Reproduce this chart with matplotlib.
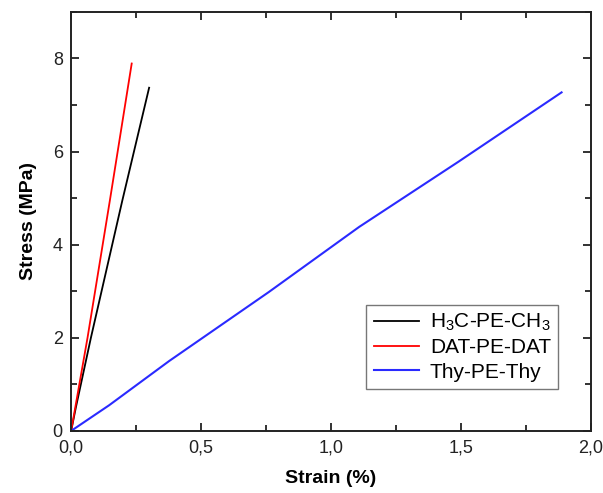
import matplotlib
matplotlib.use('Agg')
import matplotlib.pyplot as plt
from matplotlib.ticker import MultipleLocator, FuncFormatter

plt.rcParams['font.family'] = ['Liberation Sans', 'DejaVu Sans']
plt.rcParams['mathtext.fontset'] = 'custom'
plt.rcParams['mathtext.rm'] = 'Liberation Sans'
plt.rcParams['mathtext.it'] = 'Liberation Sans'

# Stress-strain curves
labels = ['H$_3$C-PE-CH$_3$', 'DAT-PE-DAT', 'Thy-PE-Thy']
colors = ['black', 'red', '#2a2aff']

ch3_strain = [0.0, 0.018, 0.076, 0.197, 0.30]
ch3_stress = [0.0, 0.5, 2.0, 4.95, 7.37]

dat_strain = [0.0, 0.063, 0.149, 0.233]
dat_stress = [0.0, 2.0, 4.95, 7.89]

thy_strain = [0.0, 0.146, 0.377, 0.76, 1.108, 1.49, 1.887]
thy_stress = [0.0, 0.55, 1.5, 2.98, 4.38, 5.78, 7.27]

fig = plt.figure(figsize=(6.03, 4.93), dpi=100)
ax = fig.add_axes([0.118, 0.126, 0.862, 0.85])

ax.plot(ch3_strain, ch3_stress, color=colors[0], lw=1.3, label=labels[0])
ax.plot(dat_strain, dat_stress, color=colors[1], lw=1.3, label=labels[1])
ax.plot(thy_strain, thy_stress, color=colors[2], lw=1.5, label=labels[2])

ax.set_xlim(0, 2.0)
ax.set_ylim(0, 9)
ax.xaxis.set_major_locator(MultipleLocator(0.5))
ax.xaxis.set_minor_locator(MultipleLocator(0.25))
ax.yaxis.set_major_locator(MultipleLocator(2))
ax.yaxis.set_minor_locator(MultipleLocator(1))
ax.xaxis.set_major_formatter(FuncFormatter(lambda v, p: f'{v:.1f}'.replace('.', ',')))

ax.tick_params(which='both', direction='in', top=True, right=True, width=1.3, labelsize=13, colors='#222222')
ax.tick_params(which='major', length=6, pad=6)
ax.tick_params(which='minor', length=4)
for s in ax.spines.values():
    s.set_linewidth(1.4)
    s.set_color('#222222')

ax.set_xlabel('Strain (%)', fontsize=14, fontweight='bold', labelpad=10)
ax.set_ylabel('Stress (MPa)', fontsize=14, fontweight='bold', labelpad=11)

leg = ax.legend(loc='lower right', bbox_to_anchor=(0.937, 0.1), fontsize=15, frameon=True,
                fancybox=False, edgecolor='#555555', handlelength=2.2, labelspacing=0.25,
                borderpad=0.35, handletextpad=0.5, borderaxespad=0)
leg.get_frame().set_linewidth(1.0)

plt.savefig('out.png', dpi=100)
